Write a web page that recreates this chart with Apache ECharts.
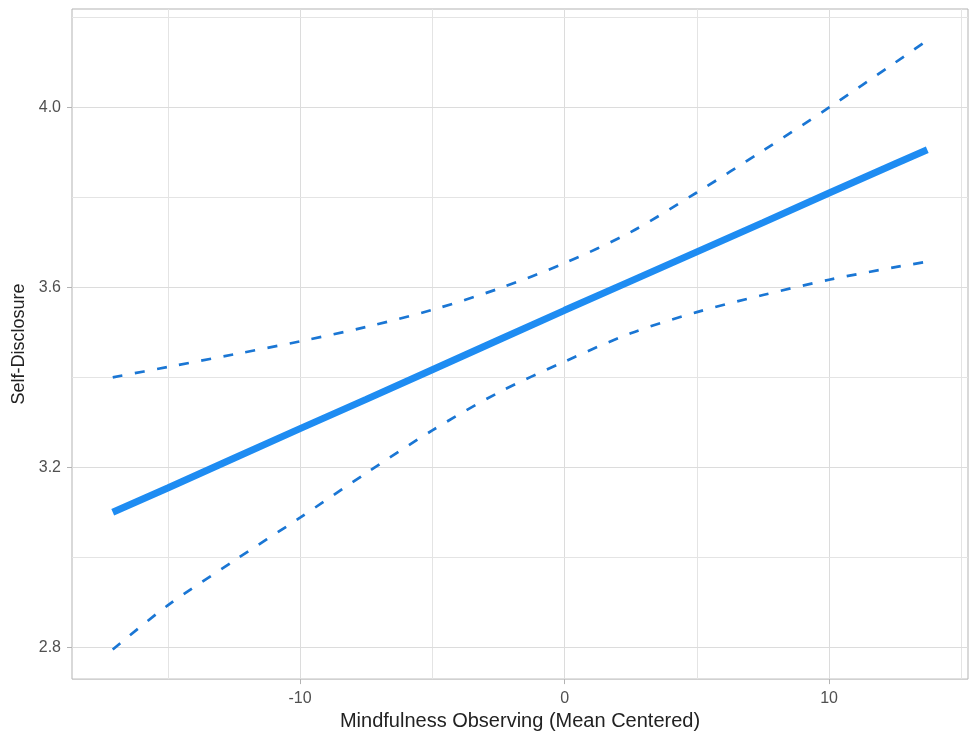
<!DOCTYPE html>
<html>
<head>
<meta charset="utf-8">
<script src="https://cdn.jsdelivr.net/npm/echarts@6/dist/echarts.min.js"></script>
<style>html,body{margin:0;padding:0;background:#fff}#c{width:971px;height:736px}</style>
</head>
<body>
<div id="c"></div>
<script>
// Data
const xValues = [-17.08, -15, -12.5, -10, -7.5, -5, -2.5, 0, 2.5, 5, 7.5, 10, 12.5, 13.71];
const fitValues = [3.100, 3.154, 3.220, 3.286, 3.351, 3.417, 3.483, 3.549, 3.614, 3.679, 3.744, 3.810, 3.875, 3.906];
const upperValues = [3.400, 3.423, 3.451, 3.480, 3.512, 3.550, 3.597, 3.654, 3.723, 3.811, 3.904, 4.000, 4.100, 4.149];
const lowerValues = [2.795, 2.893, 2.992, 3.088, 3.187, 3.282, 3.366, 3.435, 3.498, 3.545, 3.583, 3.617, 3.645, 3.657];
const xTicks = [-10, 0, 10];
const yTicks = [2.8, 3.2, 3.6, 4.0];
const xMinorGrid = [-15, -5, 5, 15];
const yMinorGrid = [3.0, 3.4, 3.8, 4.2];
const xTitle = 'Mindfulness Observing (Mean Centered)';
const yTitle = 'Self-Disclosure';

const pairs = (ys) => xValues.map((x, i) => [x, ys[i]]);
const FONT = '"Liberation Sans", Arial, sans-serif';

const gridLines = [];
xTicks.forEach(v => gridLines.push({ xAxis: v, lineStyle: { color: '#dcdcdc', width: 1 } }));
xMinorGrid.forEach(v => gridLines.push({ xAxis: v, lineStyle: { color: '#e4e4e4', width: 1 } }));
yTicks.forEach(v => gridLines.push({ yAxis: v, lineStyle: { color: '#dcdcdc', width: 1 } }));
yMinorGrid.forEach(v => gridLines.push({ yAxis: v, lineStyle: { color: '#e4e4e4', width: 1 } }));

const chart = echarts.init(document.getElementById('c'), null, { renderer: 'canvas' });
chart.setOption({
  animation: false,
  backgroundColor: '#ffffff',
  grid: { left: 72, right: 3, top: 9, bottom: 55, show: true, borderColor: '#b3b3b3', borderWidth: 1, backgroundColor: 'transparent', z: 0 },
  xAxis: {
    type: 'value', min: -18.62, max: 15.25,
    name: xTitle, nameLocation: 'middle', nameGap: 28,
    nameTextStyle: { fontFamily: FONT, fontSize: 20, color: '#222222' },
    axisLine: { show: false, onZero: false },
    axisTick: { show: true, length: 5, lineStyle: { color: '#b3b3b3' }, customValues: xTicks },
    axisLabel: { customValues: xTicks, fontFamily: FONT, fontSize: 16, color: '#505050', margin: 11,
      formatter: v => (xTicks.includes(v) ? String(v) : '') },
    splitLine: { show: false }
  },
  yAxis: {
    type: 'value', min: 2.729, max: 4.219,
    name: yTitle, nameLocation: 'middle', nameGap: 41, nameRotate: 90,
    nameTextStyle: { fontFamily: FONT, fontSize: 18, color: '#222222' },
    axisLine: { show: false, onZero: false },
    axisTick: { show: true, length: 5, lineStyle: { color: '#b3b3b3' }, customValues: yTicks },
    axisLabel: { customValues: yTicks, fontFamily: FONT, fontSize: 16, color: '#505050', margin: 11,
      formatter: v => v.toFixed(1) },
    splitLine: { show: false }
  },
  series: [
    {
      type: 'line', data: [], z: 0, silent: true,
      markLine: { z: 0, silent: true, symbol: ['none', 'none'], label: { show: false }, animation: false,
        lineStyle: { type: 'solid' }, data: gridLines }
    },
    {
      name: 'upper', type: 'line', data: pairs(upperValues), smooth: 0.3, showSymbol: false, z: 3,
      lineStyle: { color: '#1a76d4', width: 2.7, type: [10, 12.5] }
    },
    {
      name: 'lower', type: 'line', data: pairs(lowerValues), smooth: 0.3, showSymbol: false, z: 3,
      lineStyle: { color: '#1a76d4', width: 2.7, type: [10, 12.5] }
    },
    {
      name: 'fit', type: 'line', data: pairs(fitValues), showSymbol: false, z: 4,
      lineStyle: { color: '#1e8cf2', width: 7 }
    }
  ]
});
</script>
</body>
</html>
